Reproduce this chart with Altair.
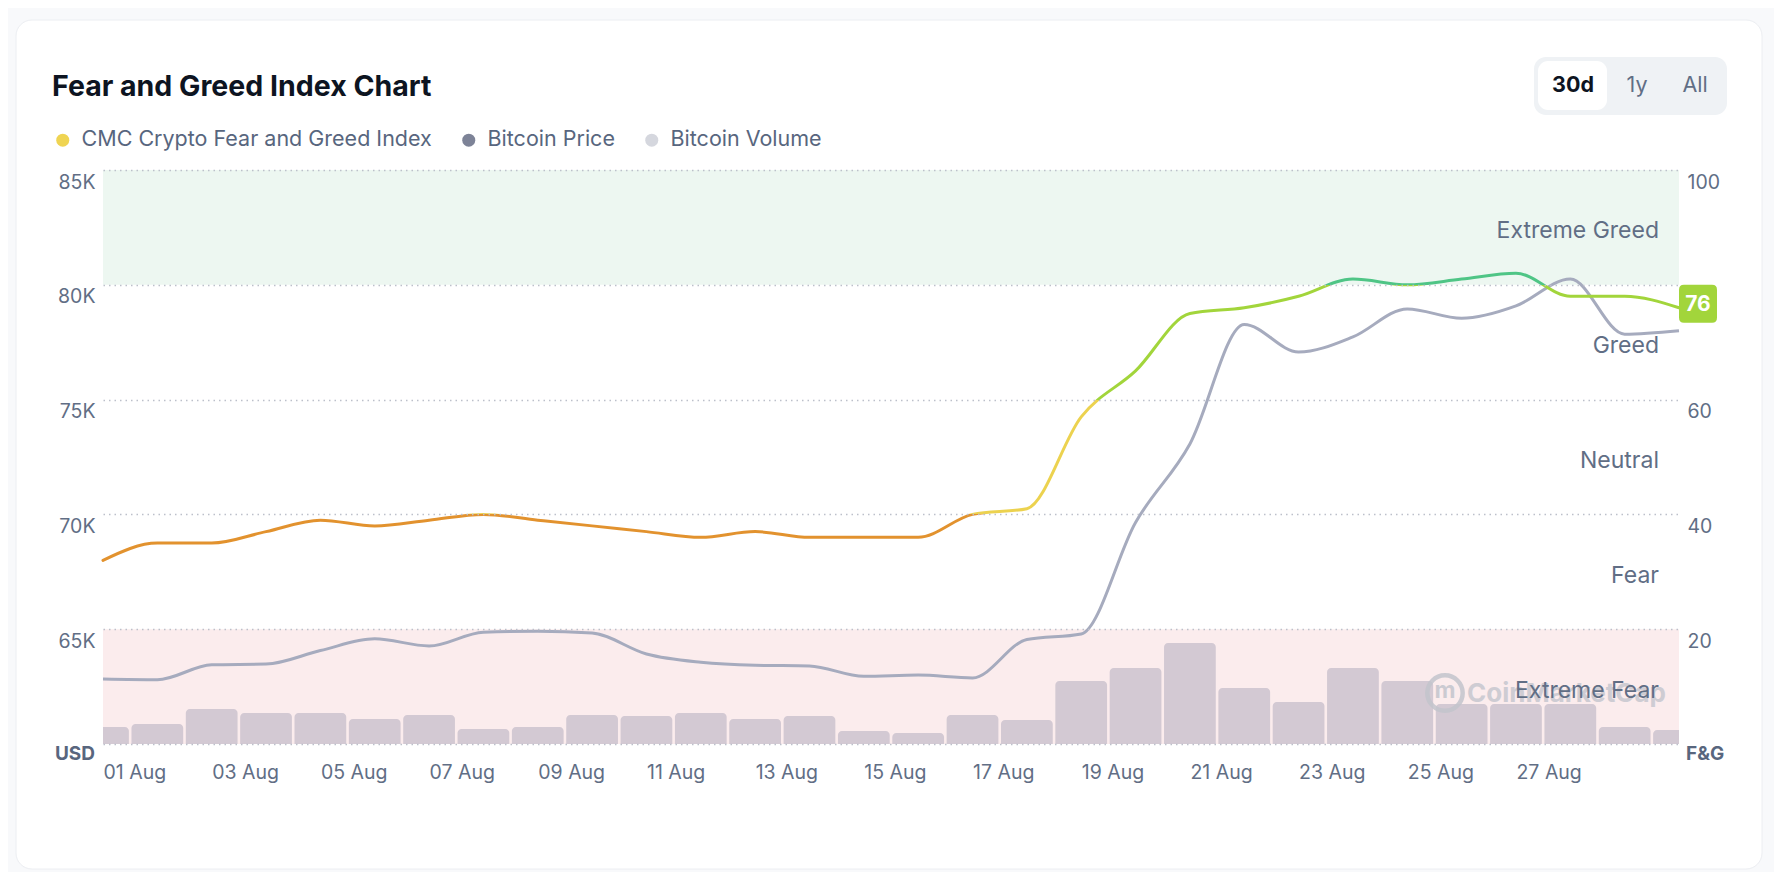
import altair as alt
import pandas as pd

# ---------------- data ----------------
days = list(range(1, 31))
fng = [32, 35, 35, 37, 39, 38, 39, 40, 39, 38, 37, 36, 37, 36, 36,
       36, 40, 41, 57, 65, 75, 76, 78, 81, 80, 81, 82, 78, 78, 76]
price_k = [62.83, 62.80, 63.45, 63.48, 64.07, 64.58, 64.27, 64.87, 64.91, 64.83,
           63.92, 63.56, 63.43, 63.40, 62.95, 63.00, 62.88, 64.55, 64.79, 69.65,
           73.07, 78.27, 77.07, 77.73, 78.95, 78.54, 79.08, 80.25, 77.85, 78.00]
volume_b = [6.8, 8.0, 14.0, 12.4, 12.4, 10.0, 11.6, 6.0, 6.8, 11.6,
            11.2, 12.4, 10.0, 11.2, 5.2, 4.4, 11.6, 9.6, 25.2, 30.4,
            40.4, 22.4, 16.8, 30.4, 25.2, 16.0, 16.0, 16.0, 6.8, 5.6]
tick_days = [1, 3, 5, 7, 9, 11, 13, 15, 17, 19, 21, 23, 25, 27]
price_ticks = [60000, 65000, 70000, 75000, 80000, 85000]
fng_ticks = [20, 40, 60, 100]
zone_names = ["Extreme Greed", "Greed", "Neutral", "Fear", "Extreme Fear"]
zone_mid = [90, 70, 50, 30, 10]
band_lo = [80, 0]
band_hi = [100, 20]
band_kind = ["greed", "fear"]
legend_names = ["CMC Crypto Fear and Greed Index", "Bitcoin Price", "Bitcoin Volume"]

# ---------------- styles ----------------
FONT = "Inter"
W, H = 1576, 574
ORANGE, YELLOW, YGREEN, GREEN = "#e2922e", "#ecd24f", "#a2d53b", "#4fc586"
LABEL = "#616e85"
DARK = "#0d1421"
AX = 19.5
legend_colors = ["#efd452", "#7d8397", "#d5d7de"]

dates = [f"2025-08-{d:02d}" for d in days]
df = pd.DataFrame({"date": dates, "fng": fng,
                   "price": [p * 1000 for p in price_k], "volume": volume_b})
dt = pd.to_datetime(df["date"])
df["start"] = (dt - pd.Timedelta(hours=12)).dt.strftime("%Y-%m-%dT%H:%M:%SZ")
df["end"] = (dt + pd.Timedelta(hours=12)).dt.strftime("%Y-%m-%dT%H:%M:%SZ")
df["date"] = dt.dt.strftime("%Y-%m-%dT00:00:00Z")


def D(d):
    return alt.DateTime(year=2025, month=8, date=d, utc=True)


x_scale = alt.Scale(type="utc", domain=[D(days[0]), D(days[-1])], nice=False)
x_axis = alt.Axis(values=[D(d) for d in tick_days],
                  labelExpr="utcFormat(datum.value, '%d %b')",
                  labelAlign="left", labelBaseline="top", labelPadding=19.5,
                  labelFontSize=AX, labelColor=LABEL, labelFont=FONT,
                  labelFlush=False, labelOverlap=False, labelBound=False,
                  ticks=False, domain=False, grid=False, title=None, zindex=1)
X = alt.X("date:T", scale=x_scale, axis=x_axis)

fng_scale = alt.Scale(domain=[0, 100], nice=False, zero=False)
price_scale = alt.Scale(domain=[60000, 85000], nice=False, zero=False)
vol_scale = alt.Scale(domain=[0, 229.6], nice=False, zero=True)


def txt(s, x, y, **kw):
    return alt.Chart(pd.DataFrame({"t": [s]})).mark_text(font=FONT, **kw).encode(
        x=alt.value(x), y=alt.value(y), text="t:N")


def box(x, x2, y, y2, **kw):
    return alt.Chart(pd.DataFrame({"a": [0]})).mark_rect(**kw).encode(
        x=alt.value(x), x2=alt.value(x2), y=alt.value(y), y2=alt.value(y2))


card = box(-87, 1659, -150, 699, fill="white", cornerRadius=16,
           stroke="#eceef2", strokeWidth=1)

bands = alt.Chart(pd.DataFrame({"lo": band_lo, "hi": band_hi, "kind": band_kind})).mark_rect().encode(
    x=alt.value(0), x2=alt.value(W),
    y=alt.Y("lo:Q", scale=fng_scale, axis=None), y2="hi:Q",
    color=alt.Color("kind:N", scale=alt.Scale(domain=["greed", "fear"],
                                              range=["#edf7f1", "#fbeced"]), legend=None))

bars = alt.Chart(df).mark_rect(clip=True, color="#d3c9d3", cornerRadiusTopLeft=4,
                               cornerRadiusTopRight=4, xOffset=1.3, x2Offset=-1.3).encode(
    x=alt.X("start:T", scale=x_scale, axis=x_axis), x2="end:T",
    y=alt.Y("volume:Q", scale=vol_scale, axis=None), y2=alt.value(H))

wm_logo = alt.Chart(pd.DataFrame({"a": [0]})).mark_point(
    shape="circle", filled=False, size=1250, strokeWidth=4.5, color="#c3c5cd", opacity=0.85).encode(
    x=alt.value(1342), y=alt.value(523))
wm_m = txt("m", 1342, 521, fontSize=23, fontWeight="bold", color="#c3c5cd",
           align="center", baseline="middle", opacity=0.85)
wm_text = txt("CoinMarketCap", 1364, 524, fontSize=26, fontWeight="bold",
              color="#c3c5cd", align="left", baseline="middle", opacity=0.8)

zones = alt.Chart(pd.DataFrame({"name": zone_names, "mid": zone_mid})).mark_text(
    font=FONT, fontSize=23, color=LABEL, align="right", baseline="middle", dy=4).encode(
    x=alt.value(W - 20), y=alt.Y("mid:Q", scale=fng_scale, axis=None), text="name:N")

price_line = alt.Chart(df).mark_line(interpolate="monotone", strokeWidth=3,
                                     color="#a6abbe").encode(
    x=X,
    y=alt.Y("price:Q", scale=price_scale,
            axis=alt.Axis(values=price_ticks, orient="left",
                          labelExpr="datum.value == 60000 ? '' : (datum.value/1000) + 'K'",
                          grid=True, gridDash=[1.5, 4], gridColor="#bcc0ca", gridWidth=1.5,
                          ticks=False, domain=False, labelBaseline="top", labelOffset=3,
                          labelPadding=8, labelFontSize=AX, labelColor=LABEL, labelFont=FONT,
                          labelOverlap=False, labelBound=False, title=None, zindex=1)))

vmin, vmax = min(fng), max(fng)


def off(t):
    return max(0.0, min(1.0, (t - vmin) / (vmax - vmin)))


grad = alt.LinearGradient(gradient="linear", x1=0, y1=1, x2=0, y2=0, stops=[
    alt.GradientStop(offset=0, color=ORANGE), alt.GradientStop(offset=off(40), color=ORANGE),
    alt.GradientStop(offset=off(40), color=YELLOW), alt.GradientStop(offset=off(60), color=YELLOW),
    alt.GradientStop(offset=off(60), color=YGREEN), alt.GradientStop(offset=off(80), color=YGREEN),
    alt.GradientStop(offset=off(80), color=GREEN), alt.GradientStop(offset=1, color=GREEN)])

fng_line = alt.Chart(df).mark_line(interpolate="monotone", strokeWidth=3, color=grad,
                                   strokeCap="round").encode(
    x=X,
    y=alt.Y("fng:Q", scale=fng_scale,
            axis=alt.Axis(values=fng_ticks, orient="right", grid=False, ticks=False,
                          domain=False, labelBaseline="top", labelOffset=3, labelPadding=8,
                          labelFontSize=AX, labelColor=LABEL, labelFont=FONT,
                          labelOverlap=False, labelBound=False, title=None, zindex=1)))

last = df.tail(1)
rounded = ("M -0.74,-1 L 0.74,-1 Q 1,-1 1,-0.74 L 1,0.74 Q 1,1 0.74,1 L -0.74,1 "
           "Q -1,1 -1,0.74 L -1,-0.74 Q -1,-1 -0.74,-1 Z")
badge = alt.Chart(last).mark_point(shape=rounded, filled=True, fill=YGREEN, size=1444,
                                   strokeWidth=0, opacity=1, yOffset=-4).encode(
    x=alt.value(W + 19), y=alt.Y("fng:Q", scale=fng_scale, axis=None))
badge_txt = alt.Chart(last).mark_text(font=FONT, fontSize=21, fontWeight="bold", color="white",
                                      align="center", baseline="middle", yOffset=-3).encode(
    x=alt.value(W + 19), y=alt.Y("fng:Q", scale=fng_scale, axis=None), text="fng:Q")

legend = alt.Chart(pd.DataFrame({"series": legend_names})).mark_point(
    filled=True, opacity=0).encode(
    x=alt.value(0), y=alt.value(0),
    color=alt.Color("series:N", sort=legend_names,
                    scale=alt.Scale(domain=legend_names, range=legend_colors),
                    legend=alt.Legend(orient="none", legendX=-51, legendY=-41,
                                      direction="horizontal", title=None,
                                      symbolType="circle", symbolSize=169, symbolOpacity=1,
                                      symbolStrokeWidth=0, labelFontSize=21.5, labelColor="#58667e",
                                      labelFont=FONT, labelOffset=8, columnPadding=26,
                                      padding=0, labelLimit=1000, zindex=1)))

title = txt("Fear and Greed Index Chart", -51, -74, fontSize=28.5, fontWeight="bold",
            color=DARK, align="left", baseline="alphabetic")
btn_bg = box(1431, 1624, -113, -55, fill="#eff2f5", cornerRadius=12)
btn_on = box(1435, 1504, -109, -60, fill="white", cornerRadius=10)
b1 = txt("30d", 1470, -84, fontSize=21.5, fontWeight="bold", color=DARK,
         align="center", baseline="middle")
b2 = txt("1y", 1534, -84, fontSize=21.5, color=LABEL, align="center", baseline="middle")
b3 = txt("All", 1592, -84, fontSize=21.5, color=LABEL, align="center", baseline="middle")
usd = txt("USD", -8, 590, fontSize=19, fontWeight="bold", color="#58667e",
          align="right", baseline="alphabetic")
fg = txt("F&G", W + 7, 590, fontSize=19, fontWeight="bold", color="#58667e",
         align="left", baseline="alphabetic")

chart = alt.layer(
    card, bands, bars, wm_logo, wm_m, wm_text, zones, price_line, fng_line,
    badge, badge_txt, legend, title, btn_bg, btn_on, b1, b2, b3, usd, fg
).resolve_scale(y="independent", color="independent").properties(
    width=W, height=H,
    padding={"left": 95, "top": 162, "right": 95, "bottom": 128},
    autosize=alt.AutoSizeParams(type="none"),
    background="#f8f9fb",
).configure_view(strokeWidth=0).configure(font=FONT)

chart.save("out.html", embed_options={"renderer": "svg", "actions": False})
